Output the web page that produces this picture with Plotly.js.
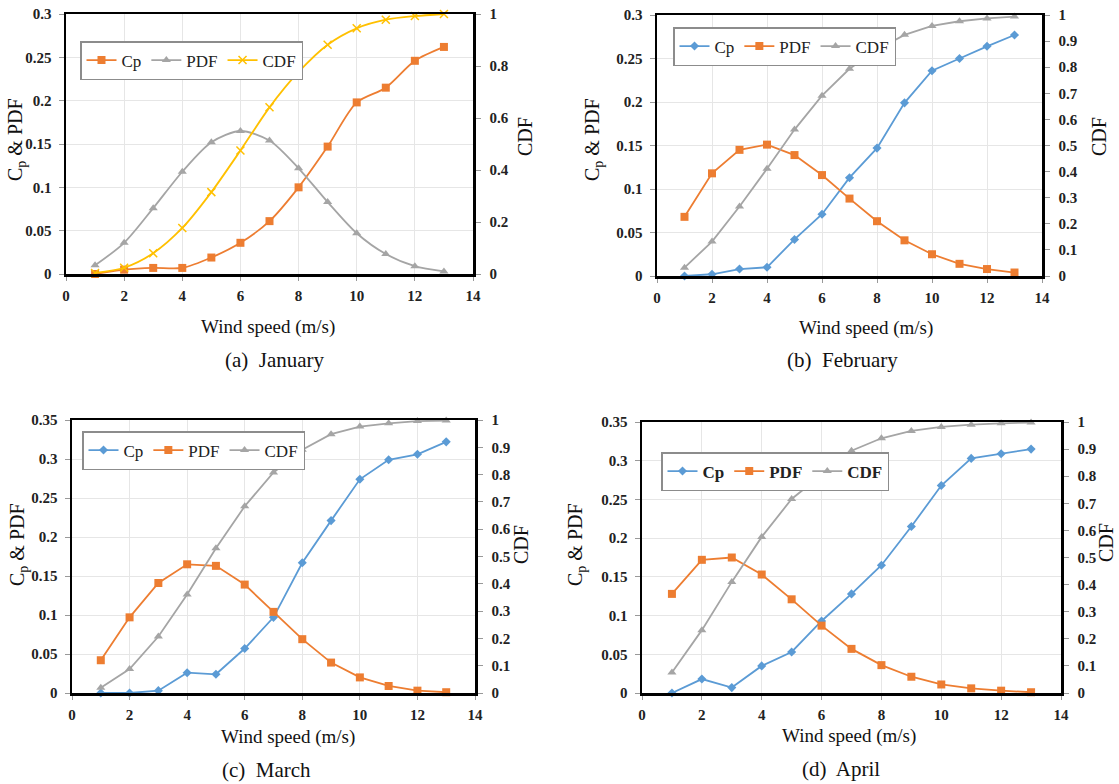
<!DOCTYPE html>
<html>
<head>
<meta charset="utf-8">
<script src="https://cdn.plot.ly/plotly-3.0.1.min.js"></script>
<style>
html,body{margin:0;padding:0;background:#fff;}
#chart{width:1119px;height:784px;}
</style>
</head>
<body>
<div id="chart"></div>
<script>
// ---------- data ----------
const windSpeed = [1, 2, 3, 4, 5, 6, 7, 8, 9, 10, 11, 12, 13];

const janCp  = [0.000, 0.005, 0.007, 0.007, 0.019, 0.036, 0.061, 0.100, 0.147, 0.198, 0.215, 0.246, 0.262];
const janPdf = [0.010, 0.036, 0.076, 0.118, 0.152, 0.165, 0.154, 0.122, 0.083, 0.047, 0.023, 0.009, 0.003];
const janCdf = [0.004, 0.024, 0.080, 0.177, 0.315, 0.475, 0.641, 0.777, 0.882, 0.945, 0.978, 0.992, 1.000];

const febCp  = [0.000, 0.002, 0.008, 0.010, 0.042, 0.071, 0.113, 0.147, 0.199, 0.236, 0.250, 0.264, 0.277];
const febPdf = [0.068, 0.118, 0.145, 0.151, 0.139, 0.116, 0.089, 0.063, 0.041, 0.025, 0.014, 0.008, 0.004];
const febCdf = [0.032, 0.132, 0.266, 0.411, 0.561, 0.691, 0.794, 0.867, 0.924, 0.958, 0.976, 0.987, 0.994];

const marCp  = [0.000, 0.000, 0.003, 0.026, 0.024, 0.057, 0.097, 0.167, 0.221, 0.274, 0.299, 0.306, 0.322];
const marPdf = [0.042, 0.097, 0.141, 0.165, 0.163, 0.139, 0.104, 0.069, 0.039, 0.020, 0.009, 0.003, 0.001];
const marCdf = [0.019, 0.088, 0.207, 0.361, 0.530, 0.684, 0.808, 0.891, 0.948, 0.976, 0.988, 0.996, 0.998];

const aprCp  = [0.000, 0.018, 0.007, 0.035, 0.053, 0.093, 0.128, 0.165, 0.215, 0.268, 0.303, 0.309, 0.315];
const aprPdf = [0.128, 0.172, 0.175, 0.153, 0.121, 0.087, 0.057, 0.036, 0.021, 0.011, 0.006, 0.003, 0.001];
const aprCdf = [0.076, 0.232, 0.410, 0.576, 0.716, 0.804, 0.894, 0.940, 0.967, 0.982, 0.990, 0.995, 0.998];

const seriesNames = ['Cp', 'PDF', 'CDF'];
const captions = ['(a)  January', '(b)  February', '(c)  March', '(d)  April'];
const xTitle = 'Wind speed (m/s)';
const yLeftTitle = 'C<sub>p</sub> & PDF';
const yRightTitle = 'CDF';

// ---------- layout helpers ----------
const W = 1119, H = 784;
const fx = px => px / W;
const fy = py => 1 - py / H;
const SERIF = 'Liberation Serif';

const ORANGE = '#ED7D31', GRAY = '#A5A5A5', YELLOW = '#FFC000', BLUE = '#5B9BD5';

// pixel boxes of plot areas [left, right, top, bottom]
const panels = [
  {box: [66, 473, 14, 274],  leftMax: 0.3,  rightDtick: 0.2, legend: [80, 41],  legendBold: false,
   xt: [268, 327], cap: [275, 360], lt: [16, 140], rt: [525, 137]},
  {box: [657, 1042, 15, 276], leftMax: 0.3, rightDtick: 0.1, legend: [673, 27], legendBold: false,
   xt: [866, 328], cap: [843, 360], lt: [593, 140], rt: [1099, 137]},
  {box: [72, 475, 420, 693], leftMax: 0.35, rightDtick: 0.1, legend: [82, 431], legendBold: false,
   xt: [288, 737], cap: [266, 770], lt: [18, 545], rt: [521, 545]},
  {box: [642, 1061, 422, 693], leftMax: 0.35, rightDtick: 0.1, legend: [661, 452], legendBold: true,
   xt: [849, 736], cap: [841, 769], lt: [576, 545], rt: [1106, 543]}
];

const data = [];
const layout = {
  width: W, height: H,
  margin: {l: 0, r: 0, t: 0, b: 0},
  paper_bgcolor: '#fff', plot_bgcolor: '#fff',
  showlegend: true,
  annotations: [],
  font: {family: SERIF, color: '#111'}
};

function mk(symbol, color, size, lineW) {
  const m = {symbol: symbol, color: color, size: size};
  if (lineW) m.line = {color: color, width: lineW};
  return m;
}

const monthly = [
  [janCp, janPdf, janCdf],
  [febCp, febPdf, febCdf],
  [marCp, marPdf, marCdf],
  [aprCp, aprPdf, aprCdf]
];

panels.forEach((p, i) => {
  const n = i + 1;
  const xName = n === 1 ? 'x' : 'x' + n;
  const yL = 2 * n - 1, yR = 2 * n;
  const yLName = yL === 1 ? 'y' : 'y' + yL;
  const yRName = 'y' + yR;
  const legName = n === 1 ? 'legend' : 'legend' + n;
  const [cp, pdf, cdf] = monthly[i];

  let styles;
  if (i === 0) {
    styles = [
      {color: ORANGE, marker: mk('square', ORANGE, 8), shape: 'spline'},
      {color: GRAY, marker: mk('triangle-up', GRAY, 8), shape: 'spline'},
      {color: YELLOW, marker: mk('x-thin', YELLOW, 8, 1.5), shape: 'spline'}
    ];
  } else {
    styles = [
      {color: BLUE, marker: mk('diamond', BLUE, 7), shape: 'linear'},
      {color: ORANGE, marker: mk('square', ORANGE, 8), shape: 'linear'},
      {color: GRAY, marker: mk('triangle-up', GRAY, 8), shape: 'linear'}
    ];
  }
  const vals = [cp, pdf, cdf];
  vals.forEach((v, k) => {
    data.push({
      type: 'scatter', mode: 'lines+markers',
      x: windSpeed, y: v, name: seriesNames[k],
      xaxis: xName, yaxis: k === 2 ? yRName : yLName,
      legend: legName,
      line: {color: styles[k].color, width: 1.8, shape: styles[k].shape, smoothing: 0.8},
      marker: styles[k].marker,
      cliponaxis: false
    });
  });

  const [l, r, t, b] = p.box;
  const tickFont = {family: SERIF, size: 15, color: '#222', weight: 'bold'};
  const xKey = n === 1 ? 'xaxis' : 'xaxis' + n;
  const yLKey = yL === 1 ? 'yaxis' : 'yaxis' + yL;
  const yRKey = 'yaxis' + yR;

  layout[xKey] = {
    domain: [fx(l), fx(r)], anchor: yLName,
    range: [0, 14], dtick: 2, tick0: 0,
    showgrid: true, gridcolor: '#e6e6e6', gridwidth: 1,
    zeroline: false,
    showline: true, linecolor: '#000', linewidth: 2.5, mirror: true,
    ticks: 'outside', ticklen: 4, tickcolor: '#999',
    tickfont: tickFont, ticklabelstandoff: 2
  };
  layout[yLKey] = {
    domain: [fy(b), fy(t)], anchor: xName,
    range: [0, p.leftMax], dtick: 0.05, tick0: 0,
    showgrid: true, gridcolor: '#e6e6e6', gridwidth: 1,
    zeroline: false,
    showline: true, linecolor: '#000', linewidth: 2.5,
    ticks: 'outside', ticklen: 5, tickcolor: '#999',
    tickfont: tickFont, ticklabelstandoff: 4
  };
  layout[yRKey] = {
    overlaying: yLName, side: 'right', anchor: xName,
    range: [0, 1], dtick: p.rightDtick, tick0: 0,
    showgrid: false, zeroline: false,
    showline: true, linecolor: '#000', linewidth: 2.5,
    ticks: 'outside', ticklen: 5, tickcolor: '#999',
    tickfont: tickFont, ticklabelstandoff: 6
  };

  layout[legName] = {
    x: fx(p.legend[0]), y: fy(p.legend[1]), xanchor: 'left', yanchor: 'top',
    orientation: 'h', bgcolor: '#fff', bordercolor: '#8c8c8c', borderwidth: 1.5,
    font: {family: SERIF, size: 17, color: '#222', weight: p.legendBold ? 'bold' : 'normal'},
    itemwidth: 30, tracegroupgap: 0
  };

  const titleFont = {family: SERIF, size: 20, color: '#111'};
  layout.annotations.push(
    {xref: 'paper', yref: 'paper', x: fx(p.xt[0]), y: fy(p.xt[1]), text: xTitle, showarrow: false,
     xanchor: 'center', yanchor: 'middle', font: {family: SERIF, size: 19, color: '#111'}},
    {xref: 'paper', yref: 'paper', x: fx(p.cap[0]), y: fy(p.cap[1]), text: captions[i], showarrow: false,
     xanchor: 'center', yanchor: 'middle', font: {family: SERIF, size: 21, color: '#111'}},
    {xref: 'paper', yref: 'paper', x: fx(p.lt[0]), y: fy(p.lt[1]), text: yLeftTitle, showarrow: false,
     textangle: -90, xanchor: 'center', yanchor: 'middle', font: titleFont},
    {xref: 'paper', yref: 'paper', x: fx(p.rt[0]), y: fy(p.rt[1]), text: yRightTitle, showarrow: false,
     textangle: -90, xanchor: 'center', yanchor: 'middle', font: titleFont}
  );
});

Plotly.newPlot('chart', data, layout, {staticPlot: true, displayModeBar: false});
</script>
</body>
</html>
